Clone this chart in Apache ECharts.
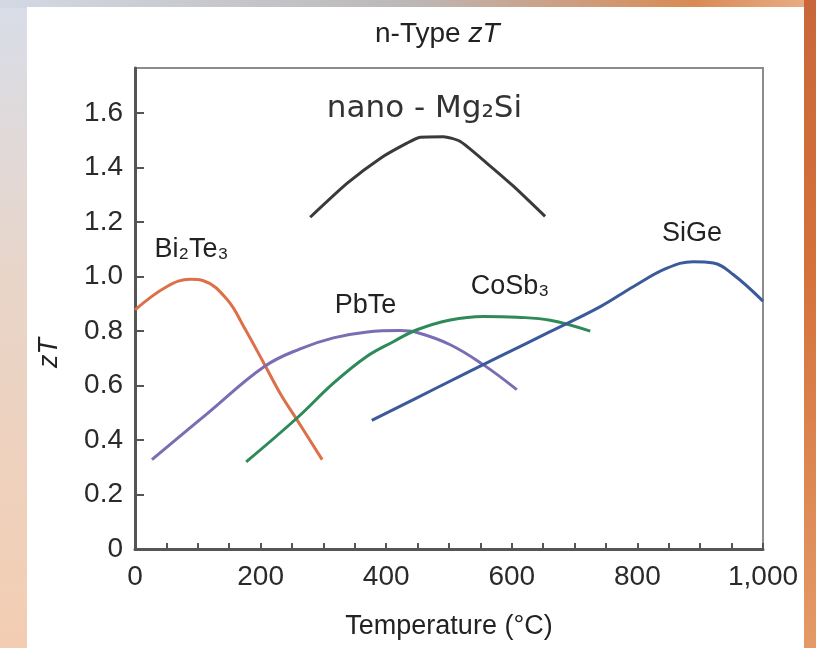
<!DOCTYPE html>
<html>
<head>
<meta charset="utf-8">
<script src="https://cdn.jsdelivr.net/npm/echarts@6/dist/echarts.min.js"></script>
<style>
  body { margin: 0; width: 816px; height: 648px; overflow: hidden;
    background: linear-gradient(to bottom, #d8dde8 0%, #e9d5c8 45%, #f3cdb2 100%); }
  .strip-top { position: absolute; left: 0; top: 0; width: 816px; height: 8px;
    background: linear-gradient(to right, #d3d9e4 0%, #bcb8b8 50%, #d98a55 85%, #eab088 100%); }
  .strip-right { position: absolute; left: 804px; top: 0; width: 12px; height: 648px;
    background: linear-gradient(to bottom, #c8683a 0%, #d4703a 40%, #e49a66 100%); }
  .panel { position: absolute; left: 27px; top: 7px; width: 777px; height: 641px; background: #fff; }
  #chart { position: absolute; left: 0; top: 0; width: 816px; height: 648px; }
</style>
</head>
<body>
<div class="strip-top"></div>
<div class="strip-right"></div>
<div class="panel"></div>
<div id="chart"></div>
<script>
// n-type zT vs temperature (°C)
const bi2te3T = [0, 51, 88, 109, 147, 173, 205, 231, 258, 298];
const bi2te3ZT = [0.878, 0.964, 0.99, 0.985, 0.915, 0.817, 0.683, 0.572, 0.474, 0.328];

const pbteT = [27, 116, 206, 263, 316, 370, 422, 449, 502, 555, 608];
const pbteZT = [0.328, 0.499, 0.67, 0.735, 0.775, 0.797, 0.802, 0.795, 0.75, 0.676, 0.585];

const cosb3T = [177, 258, 316, 369, 412, 449, 502, 555, 608, 661, 725];
const cosb3ZT = [0.32, 0.481, 0.609, 0.707, 0.762, 0.805, 0.841, 0.854, 0.851, 0.84, 0.8];

const sigeT = [377, 480, 581, 661, 741, 794, 847, 889, 921, 953, 1000];
const sigeZT = [0.472, 0.591, 0.707, 0.798, 0.89, 0.964, 1.031, 1.055, 1.05, 1.007, 0.91];

const mg2siT = [279, 338, 391, 433, 454, 491, 518, 560, 603, 653];
const mg2siZT = [1.218, 1.343, 1.435, 1.49, 1.512, 1.514, 1.496, 1.417, 1.331, 1.221];

// curve names and where their labels sit (data units)
const labelText = ['Bi₂Te₃', 'PbTe', 'CoSb₃', 'SiGe', 'nano - Mg₂Si'];
const labelAt = [[90, 1.098], [367, 0.893], [597, 0.963], [887, 1.157], [461, 1.614]];

const yTicks = [0, 0.2, 0.4, 0.6, 0.8, 1.0, 1.2, 1.4, 1.6];

const pairs = (xs, ys) => xs.map((x, i) => [x, ys[i]]);
const FONT = '"Liberation Sans", Arial, sans-serif';

function curve(name, data, color, i, smooth) {
  return {
    name: name,
    type: 'line',
    data: data,
    smooth: smooth,
    symbol: 'none',
    lineStyle: { color: color, width: 3 },
    markPoint: {
      symbol: 'circle',
      symbolSize: 1,
      itemStyle: { color: 'rgba(0,0,0,0)' },
      label: {
        show: true,
        position: 'inside',
        formatter: labelText[i],
        color: i === 4 ? '#333' : '#222',
        fontFamily: i === 4 ? '"DejaVu Sans", sans-serif' : FONT,
        fontSize: i === 4 ? 31 : 27
      },
      data: [{ coord: labelAt[i] }]
    }
  };
}

const chart = echarts.init(document.getElementById('chart'));
chart.setOption({
  animation: false,
  backgroundColor: 'transparent',
  title: {
    text: 'n-Type {i|zT}',
    left: 370,
    top: 15,
    textStyle: {
      fontFamily: FONT, fontSize: 28, fontWeight: 'normal', color: '#222',
      rich: { i: { fontFamily: FONT, fontSize: 28, fontStyle: 'italic', color: '#222' } }
    }
  },
  grid: {
    left: 135, right: 53, top: 68, bottom: 99,
    show: true, borderColor: '#8c8c8c', borderWidth: 2
  },
  graphic: [{
    type: 'text',
    left: 36, top: 338,
    rotation: Math.PI / 2,
    style: { text: 'zT', fontFamily: FONT, fontSize: 27, fontStyle: 'italic', fill: '#222' }
  }],
  xAxis: {
    type: 'value',
    min: 0, max: 1000, interval: 50,
    name: 'Temperature (°C)',
    nameLocation: 'middle',
    nameGap: 64,
    nameTextStyle: { fontFamily: FONT, fontSize: 27, color: '#222' },
    axisLine: { lineStyle: { color: '#555', width: 3 } },
    axisTick: { inside: true, length: 6, lineStyle: { color: '#555', width: 2 } },
    axisLabel: {
      margin: 14, fontFamily: FONT, fontSize: 28, color: '#2a2a2a',
      formatter: v => (v % 200 === 0 ? v.toLocaleString('en-US') : '')
    },
    splitLine: { show: false }
  },
  yAxis: {
    type: 'value',
    min: 0, max: 1.766, interval: 0.2,
    axisLine: { show: true, lineStyle: { color: '#555', width: 3 } },
    axisTick: { show: true, inside: true, length: 9, customValues: yTicks, lineStyle: { color: '#555', width: 2 } },
    axisLabel: {
      margin: 12, fontFamily: FONT, fontSize: 28, color: '#2a2a2a',
      customValues: yTicks,
      formatter: v => (v === 0 ? '0' : v.toFixed(1))
    },
    splitLine: { show: false }
  },
  series: [
    curve('Bi2Te3', pairs(bi2te3T, bi2te3ZT), '#dc7048', 0, 0.4),
    curve('PbTe', pairs(pbteT, pbteZT), '#7a6db4', 1, 0.4),
    curve('CoSb3', pairs(cosb3T, cosb3ZT), '#2e8a58', 2, 0.4),
    curve('SiGe', pairs(sigeT, sigeZT), '#3b5a9c', 3, 0.4),
    curve('nano-Mg2Si', pairs(mg2siT, mg2siZT), '#3a3a3a', 4, 0.2)
  ]
});
</script>
</body>
</html>
